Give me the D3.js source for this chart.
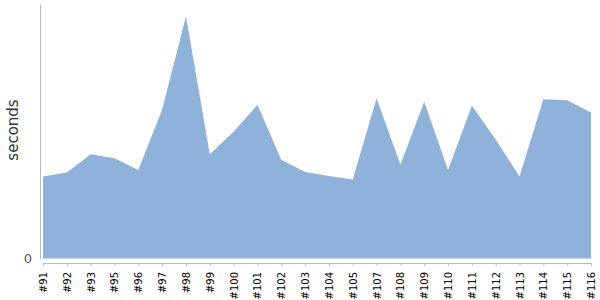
<!DOCTYPE html>
<html>
<head>
<meta charset="utf-8">
<script src="https://cdn.jsdelivr.net/npm/d3@7"></script>
<style>
  body { margin: 0; background: #fff; }
  svg { display: block; }
</style>
</head>
<body>
<svg id="chart" width="600" height="300"></svg>
<script>
// builds on the x axis
const builds = ["#91", "#92", "#93", "#95", "#96", "#97", "#98", "#99", "#100", "#101", "#102",
  "#103", "#104", "#105", "#107", "#108", "#109", "#110", "#111", "#112", "#113", "#114", "#115", "#116"];

// duration of each build (seconds)
const seconds = [161, 169, 205, 197, 174, 292, 476, 205, 249, 302, 194,
  170, 162, 155, 315, 184, 308, 174, 300, 234, 161, 313, 311, 287];

const yTicks = [0];

const FONT = "DejaVu Sans, sans-serif";

const svg = d3.select("#chart");

const margin = { top: 4, right: 9, bottom: 41.5, left: 43 };
const width = 600, height = 300;
const innerW = width - margin.left - margin.right;
const innerH = height - margin.top - margin.bottom;

const g = svg.append("g")
  .attr("transform", `translate(${margin.left},${margin.top})`);

const x = d3.scalePoint()
  .domain(builds)
  .range([0, innerW]);

const y = d3.scaleLinear()
  .domain([0, 500])
  .range([innerH, 0]);

const rows = builds.map((b, i) => ({ build: b, value: seconds[i] }));

// area
const area = d3.area()
  .x(d => x(d.build))
  .y0(y(0))
  .y1(d => y(d.value));

g.append("path")
  .datum(rows)
  .attr("d", area)
  .attr("fill", "#8fb2db");

// x axis, a bit below the baseline
const xAxis = g.append("g")
  .attr("transform", `translate(0,${innerH + 4.5})`)
  .call(d3.axisBottom(x).tickSize(3).tickSizeOuter(0).tickPadding(6))
  .attr("font-family", FONT);

xAxis.select(".domain").attr("stroke", "#bbb");
xAxis.selectAll(".tick line").attr("stroke", "#bbb");
xAxis.selectAll(".tick text")
  .attr("font-size", 10)
  .attr("fill", "#000")
  .attr("transform", "rotate(-90)")
  .attr("text-anchor", "end")
  .attr("x", -9)
  .attr("y", 0)
  .attr("dy", "0.35em");

// y axis, a bit left of the first point
const yAxis = g.append("g")
  .attr("transform", "translate(-3,0)")
  .call(d3.axisLeft(y).tickValues(yTicks).tickSize(0).tickSizeOuter(0).tickPadding(8))
  .attr("font-family", FONT);

yAxis.select(".domain").attr("stroke", "#bbb");
yAxis.selectAll(".tick text")
  .attr("font-size", 13)
  .attr("fill", "#555");

svg.append("text")
  .attr("transform", "rotate(-90)")
  .attr("x", -130)
  .attr("y", 18)
  .attr("text-anchor", "middle")
  .attr("font-family", FONT)
  .attr("font-size", 15)
  .attr("fill", "#333")
  .text("seconds");
</script>
</body>
</html>
